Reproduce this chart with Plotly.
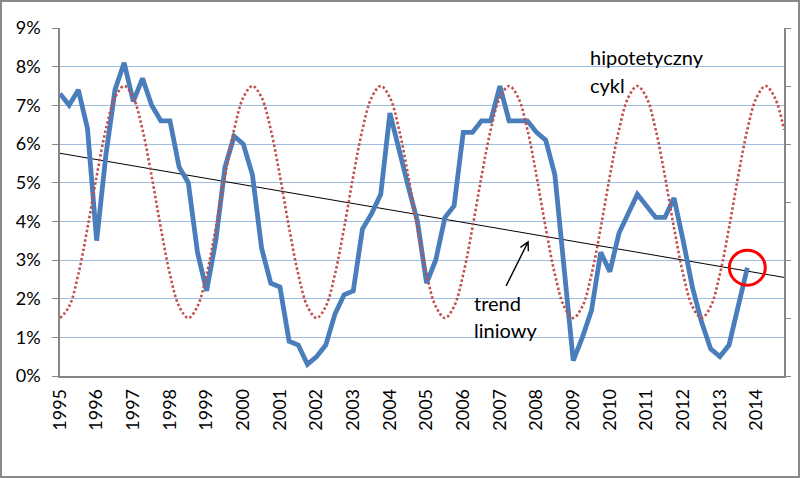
import plotly.graph_objects as go

# ---------------- data ----------------
year_labels = [str(y) for y in range(1995, 2015)]
year_ticks = [1995 + i for i in range(20)]
# quarterly positions 1995Q1 .. 2014Q4 (decimal years)
quarter_x = [1995 + k / 4 for k in range(80)]

# blue series (%), 1995Q1 .. 2013Q4
rate = [7.3, 7.0, 7.4, 6.4, 3.5, 5.7, 7.4, 8.1, 7.1, 7.7,
        7.0, 6.6, 6.6, 5.4, 5.0, 3.2, 2.2, 3.5, 5.4, 6.2,
        6.0, 5.2, 3.3, 2.4, 2.3, 0.9, 0.8, 0.3, 0.5, 0.8,
        1.6, 2.1, 2.2, 3.8, 4.2, 4.7, 6.8, 5.8, 4.9, 4.0,
        2.4, 3.0, 4.1, 4.4, 6.3, 6.3, 6.6, 6.6, 7.5, 6.6,
        6.6, 6.6, 6.3, 6.1, 5.2, 2.8, 0.4, 1.0, 1.7, 3.2,
        2.7, 3.7, 4.2, 4.7, 4.4, 4.1, 4.1, 4.6, 3.5, 2.3,
        1.4, 0.7, 0.5, 0.8, 1.8, 2.8]

# hypothetical cycle (dotted red), 1995Q1 .. 2014Q4
cycle = [1.5, 1.8, 2.63, 3.83, 5.17, 6.37, 7.2, 7.5, 7.2, 6.37, 5.17, 3.83, 2.63, 1.8,
         1.5, 1.8, 2.63, 3.83, 5.17, 6.37, 7.2, 7.5, 7.2, 6.37, 5.17, 3.83, 2.63, 1.8,
         1.5, 1.8, 2.63, 3.83, 5.17, 6.37, 7.2, 7.5, 7.2, 6.37, 5.17, 3.83, 2.63, 1.8,
         1.5, 1.8, 2.63, 3.83, 5.17, 6.37, 7.2, 7.5, 7.2, 6.37, 5.17, 3.83, 2.63, 1.8,
         1.5, 1.8, 2.63, 3.83, 5.17, 6.37, 7.2, 7.5, 7.2, 6.37, 5.17, 3.83, 2.63, 1.8,
         1.5, 1.8, 2.63, 3.83, 5.17, 6.37, 7.2, 7.5, 7.2, 6.37]

# linear trend (end points)
trend_x = [1995.0, 2014.75]
trend_y = [5.76, 2.55]

y_ticks = [0, 1, 2, 3, 4, 5, 6, 7, 8, 9]
y_labels = [f"{v}%" for v in y_ticks]

# ---------------- figure ----------------
W, H = 800, 478
L, R, T, B = 60, 16, 28, 102
FONT = "Lato, 'Open Sans', sans-serif"

fig = go.Figure()

fig.add_trace(go.Scatter(
    x=quarter_x[:len(cycle)], y=cycle, mode="lines", yaxis="y2",
    line=dict(color="#C0504D", width=2.6, dash="2.5px,2.3px", shape="spline", smoothing=1.0),
    hoverinfo="skip", showlegend=False))

fig.add_trace(go.Scatter(
    x=trend_x, y=trend_y, mode="lines",
    line=dict(color="#000000", width=1), showlegend=False))

fig.add_trace(go.Scatter(
    x=quarter_x[:len(rate)], y=rate, mode="lines",
    line=dict(color="#4A7EBB", width=4.8), showlegend=False))

fig.update_layout(
    width=W, height=H,
    margin=dict(l=L, r=R, t=T, b=B, pad=0),
    paper_bgcolor="white", plot_bgcolor="white",
    font=dict(family=FONT, size=18, color="#000000"),
    xaxis=dict(
        range=[1995, 2014.75], tickmode="array", tickvals=year_ticks, ticktext=year_labels,
        tickangle=-90, showgrid=False, zeroline=False, showline=True,
        linecolor="#868686", linewidth=1.5, ticks="", ticklabelstandoff=4,
        tickfont=dict(family=FONT, size=18, color="#000000")),
    yaxis=dict(
        range=[0, 9], tickmode="array", tickvals=y_ticks, ticktext=y_labels,
        showgrid=True, gridcolor="#9FBDE3", gridwidth=1.3, zeroline=False,
        showline=True, linecolor="#868686", linewidth=1.5,
        ticks="outside", ticklen=6, tickcolor="#868686", ticklabelstandoff=8,
        tickfont=dict(family=FONT, size=18, color="#000000")),
    yaxis2=dict(
        range=[0, 9], overlaying="y", side="right", dtick=1.5, tick0=0,
        showgrid=False, zeroline=False, showline=True, linecolor="#868686", linewidth=1.5,
        ticks="outside", ticklen=5, tickcolor="#868686", showticklabels=False),
)

# annotations
ann_font = dict(family=FONT, size=20, color="#000000")
for txt, xx, yy in [("hipotetyczny", 2009.40, 8.25), ("cykl", 2009.40, 7.52),
                    ("trend", 2006.23, 1.89), ("liniowy", 2006.23, 1.19)]:
    fig.add_annotation(x=xx, y=yy, xref="x", yref="y", text=txt, showarrow=False,
                       xanchor="left", yanchor="middle", font=ann_font)

# arrow (open V head) pointing at the trend line, drawn in pixel offsets from its tip
fig.add_shape(type="path", xref="x", yref="y", xsizemode="pixel", ysizemode="pixel",
              xanchor=2007.77, yanchor=3.47,
              path="M -22,-44 L 0,0 M 0.2,-9.5 L 0,0 L -7.7,-5.5",
              line=dict(color="#000000", width=1.4))

# red circle around the latest value
cx, cy = quarter_x[len(rate) - 1], rate[-1]
fig.add_shape(type="circle", xref="x", yref="y",
              x0=cx - 0.49, x1=cx + 0.49, y0=cy - 0.45, y1=cy + 0.45,
              line=dict(color="#FF0000", width=3))

# outer chart border (paper y=0 is the plot-area bottom)
pw, ph = W - L - R, H - T - B
fig.add_shape(type="rect", xref="paper", yref="paper",
              x0=(1 - L) / pw, x1=(W - 1 - L) / pw,
              y0=((H - B) - (H - 1)) / ph, y1=((H - B) - 1) / ph,
              line=dict(color="#898989", width=2), layer="below")

fig.write_html("out.html", config={"displayModeBar": False},
               post_script="document.body.style.margin='0';")
